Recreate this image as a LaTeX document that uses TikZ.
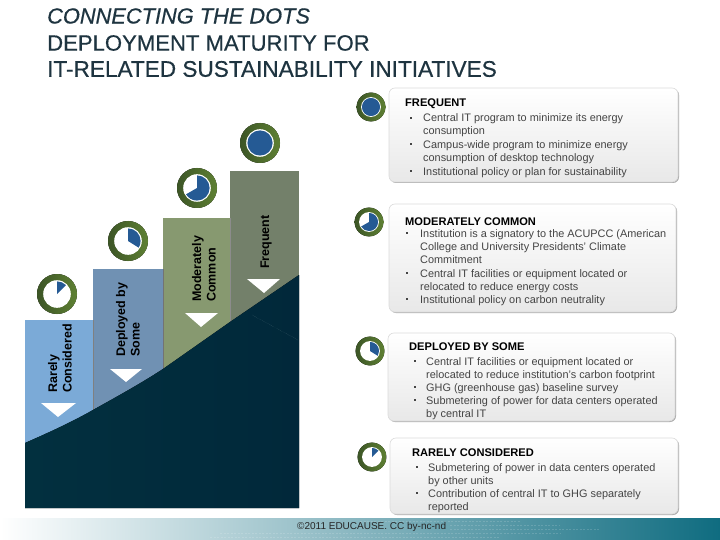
\documentclass[tikz,border=0pt]{standalone}
\usepackage{fontspec}
\setmainfont{Liberation Sans}
\newfontfamily\titlefont[FakeBold=0.5,ItalicFeatures={FakeBold=0.5}]{Liberation Sans}
\definecolor{titlec}{HTML}{1E3440}
\definecolor{bodyc}{HTML}{444444}
\definecolor{pieblue}{HTML}{255A94}
\definecolor{darkbase}{HTML}{02303F}
\definecolor{darkend}{HTML}{01283A}
\definecolor{ringa}{HTML}{3C5526}
\definecolor{ringb}{HTML}{5E8033}
\definecolor{footmid}{RGB}{118,176,187}
\definecolor{footend}{RGB}{15,108,128}
\definecolor{stepa}{RGB}{123,170,215}
\definecolor{stepb}{RGB}{112,145,179}
\definecolor{stepc}{RGB}{135,153,112}
\definecolor{stepd}{RGB}{115,128,106}
\tikzset{
  titletext/.style={anchor=west,inner sep=0pt,text=titlec,yshift=-1pt},
  steplabel/.style={rotate=90,anchor=west,inner sep=0pt,align=left,font=\fontsize{12.5}{14.5}\selectfont\bfseries,text=black},
  cardbox/.style={rounded corners=6pt,top color=white,bottom color=black!9,draw=black!14,line width=.6pt},
  cardshadow/.style={rounded corners=6pt,fill=black!32},
  cardhead/.style={anchor=west,inner sep=0pt,yshift=-1.2pt,font=\fontsize{11.1}{13.3}\selectfont\bfseries,text=black},
  carditem/.style={anchor=north west,inner sep=0pt,yshift=-1pt,align=left,font=\fontsize{10.9}{13.3}\selectfont,text=bodyc},
  cardbullet/.style={inner sep=0pt,minimum size=2.8pt,fill=bodyc,rectangle},
  marker/.style={fill=white,draw=none},
}
\newcommand{\ringicon}[4]{%
  \begin{scope}[shift={(#1,#2)},scale=#3]
    \fill[left color=ringa,right color=ringb] (0pt,0pt) circle[radius=20pt];
    \fill[white] (0pt,0pt) circle[radius=13.8pt];
    \fill[pieblue] (0pt,0pt) -- (90:12.6pt) arc[start angle=90,end angle=#4,radius=12.6pt] -- cycle;
  \end{scope}}
\newcommand{\fullicon}[3]{%
  \begin{scope}[shift={(#1,#2)},scale=#3]
    \fill[left color=ringa,right color=ringb] (0pt,0pt) circle[radius=20pt];
    \fill[white] (0pt,0pt) circle[radius=13.8pt];
    \fill[pieblue] (0pt,0pt) circle[radius=12.6pt];
  \end{scope}}
\begin{document}
\begin{tikzpicture}[x=1pt,y=-1pt]
\useasboundingbox (0,0) rectangle (720,540);
\fill[white] (0,0) rectangle (720,540);
% title
\node[titletext,font=\fontsize{21.8}{24}\titlefont\itshape] (t1) at (47,15) {CONNECTING THE DOTS};
\node[titletext,font=\fontsize{22.1}{24}\titlefont] (t2) at (47,42) {DEPLOYMENT MATURITY FOR};
\node[titletext,font=\fontsize{22.6}{24}\titlefont] (t3) at (47,68) {IT-RELATED SUSTAINABILITY INITIATIVES};
% footer
\fill[left color=white,middle color=footmid,right color=footend] (0,518) rectangle (720,540);
\foreach \yy/\xa/\xb in {521/360/520,525/450/560,529/450/600,533/220/560,537/210/500}
  \draw[white,opacity=.15,line width=.5pt,dash pattern=on 2pt off 1.5pt] (\xa,\yy) -- (\xb,\yy);
\node[anchor=west,inner sep=0pt,font=\fontsize{10}{12}\selectfont,text=black!85] (foot) at (297,527) {©2011 EDUCAUSE. CC by-nc-nd};
% staircase
\fill[stepa] (25,320) rectangle (93,450);
\fill[stepb] (93,269) rectangle (163,420);
\fill[stepc] (163,218) rectangle (230,375);
\fill[stepd] (230,171) rectangle (299,330);
\draw[black!50,line width=.4pt] (93,320) -- (93,411);
\draw[black!55,line width=.4pt] (163,269) -- (163,369);
\draw[black!45,line width=.4pt] (230,218) -- (230,322);
% dark ground
\fill[left color=darkbase,right color=darkend] (25,443) .. controls (50,432) and (72,422) .. (93,410) .. controls (118,396) and (140,384) .. (163,369) -- (230,322) -- (299,275) -- (299,508) -- (25,508) -- cycle;
\draw[white,opacity=.3,line width=.3pt,densely dotted] (252,315) -- (298,340);
% markers
\fill[marker] (41,403) -- (76,403) -- (58,417) -- cycle;
\fill[marker] (110,369) -- (142,369) -- (126,382) -- cycle;
\fill[marker] (185,313) -- (218,313) -- (201,327) -- cycle;
\fill[marker] (247,279) -- (280,279) -- (264,293) -- cycle;
% step labels
\node[steplabel] (l1) at (60,393) {Rarely\\Considered};
\node[steplabel] (l2) at (128,357) {Deployed by\\Some};
\node[steplabel] (l3) at (204,302) {Moderately\\Common};
\node[steplabel] (l4) at (266,269) {Frequent};
% big icons
\ringicon{57}{294}{1}{45}
\ringicon{128}{241}{1}{-32}
\ringicon{197}{188}{1}{-150}
\fullicon{260}{143}{1}
% small icons
\fullicon{371}{107}{.72}
\ringicon{369}{222}{.72}{-150}
\ringicon{370}{351}{.72}{-32}
\ringicon{372}{457}{.72}{45}
% card 1
\fill[cardshadow] (390,89) rectangle (679,183);
\path[cardbox] (389,88) rectangle (678,182);
\node[cardhead] (h1) at (405,103) {FREQUENT};
\node[cardbullet] (b11) at (411,118) {};
\node[cardbullet] (b12) at (411,144) {};
\node[cardbullet] (b13) at (411,171) {};
\node[carditem] (i11) at (423,112.5) {Central IT program to minimize its energy\\consumption};
\node[carditem] (i12) at (423,139) {Campus-wide program to minimize energy\\consumption of desktop technology};
\node[carditem] (i13) at (423,166) {Institutional policy or plan for sustainability};
% card 2
\fill[cardshadow] (390,205) rectangle (677,313);
\path[cardbox] (389,204) rectangle (676,312);
\node[cardhead] (h2) at (405,220) {MODERATELY COMMON};
\node[cardbullet] (b21) at (407,233) {};
\node[cardbullet] (b22) at (407,273) {};
\node[cardbullet] (b23) at (407,299) {};
\node[carditem] (i21) at (420,228) {Institution is a signatory to the ACUPCC (American\\College and University Presidents’ Climate\\Commitment};
\node[carditem] (i22) at (420,268) {Central IT facilities or equipment located or\\relocated to reduce energy costs};
\node[carditem] (i23) at (420,294) {Institutional policy on carbon neutrality};
% card 3
\fill[cardshadow] (389,334) rectangle (676,422);
\path[cardbox] (388,333) rectangle (675,421);
\node[cardhead] (h3) at (409,345) {DEPLOYED BY SOME};
\node[cardbullet] (b31) at (415,361) {};
\node[cardbullet] (b32) at (415,387) {};
\node[cardbullet] (b33) at (415,400) {};
\node[carditem] (i31) at (426,356) {Central IT facilities or equipment located or\\relocated to reduce institution's carbon footprint};
\node[carditem] (i32) at (426,382) {GHG (greenhouse gas) baseline survey};
\node[carditem] (i33) at (426,395.5) {Submetering of power for data centers operated\\by central IT};
% card 4
\fill[cardshadow] (391,439) rectangle (679,515);
\path[cardbox] (390,438) rectangle (678,514);
\node[cardhead] (h4) at (412,451) {RARELY CONSIDERED};
\node[cardbullet] (b41) at (417,467) {};
\node[cardbullet] (b42) at (417,493) {};
\node[carditem] (i41) at (428,462) {Submetering of power in data centers operated\\by other units};
\node[carditem] (i42) at (428,488) {Contribution of central IT to GHG separately\\reported};
\end{tikzpicture}
\end{document}
